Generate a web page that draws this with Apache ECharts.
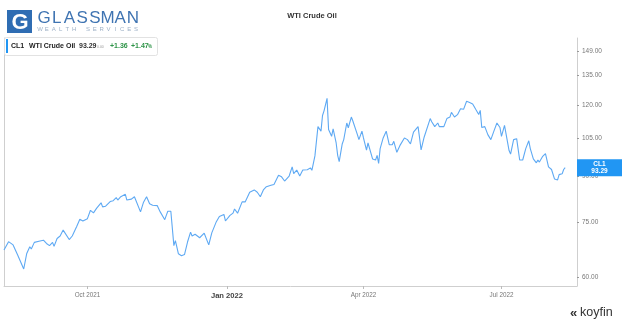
<!DOCTYPE html>
<html>
<head>
<meta charset="utf-8">
<script src="https://cdn.jsdelivr.net/npm/echarts@6/dist/echarts.min.js"></script>
<style>
html,body{margin:0;padding:0;background:#fff;}
#c{width:624px;height:323px;}
</style>
</head>
<body>
<div id="c"></div>
<script>
// ---- data ----
var seriesName = 'CL1';
var seriesTitle = 'WTI Crude Oil';
var chartTitle = 'WTI Crude Oil';
var dates = [
'2021-08-07','2021-08-10','2021-08-13','2021-08-16','2021-08-20','2021-08-22','2021-08-24','2021-08-25','2021-08-27','2021-08-30','2021-08-31',
'2021-09-02','2021-09-04','2021-09-06','2021-09-08','2021-09-09','2021-09-11','2021-09-13','2021-09-15','2021-09-16','2021-09-19','2021-09-21','2021-09-24','2021-09-26','2021-09-28',
'2021-10-01','2021-10-03','2021-10-05','2021-10-07','2021-10-10','2021-10-11','2021-10-13','2021-10-16','2021-10-18','2021-10-20','2021-10-21','2021-10-23','2021-10-24','2021-10-26','2021-10-27','2021-10-30',
'2021-11-01','2021-11-05','2021-11-07','2021-11-09','2021-11-11','2021-11-13','2021-11-16','2021-11-18','2021-11-19','2021-11-21','2021-11-22','2021-11-23','2021-11-25','2021-11-26','2021-11-27','2021-11-28','2021-11-30',
'2021-12-02','2021-12-03','2021-12-04','2021-12-06','2021-12-08','2021-12-09','2021-12-11','2021-12-14','2021-12-15','2021-12-17','2021-12-20','2021-12-22','2021-12-25','2021-12-27','2021-12-30','2021-12-31',
'2022-01-03','2022-01-05','2022-01-06','2022-01-08','2022-01-11','2022-01-13','2022-01-16','2022-01-17','2022-01-19','2022-01-21','2022-01-23','2022-01-25','2022-01-27','2022-01-30',
'2022-02-01','2022-02-04','2022-02-06','2022-02-08','2022-02-09','2022-02-11','2022-02-13','2022-02-14','2022-02-16','2022-02-18','2022-02-20','2022-02-23','2022-02-25','2022-02-26','2022-02-28',
'2022-03-02','2022-03-04','2022-03-05','2022-03-06','2022-03-08','2022-03-09','2022-03-11','2022-03-12','2022-03-14','2022-03-15','2022-03-16','2022-03-18','2022-03-19','2022-03-21','2022-03-22','2022-03-24','2022-03-25','2022-03-26','2022-03-28','2022-03-29','2022-03-31',
'2022-04-01','2022-04-03','2022-04-04','2022-04-05','2022-04-07','2022-04-09','2022-04-10','2022-04-11','2022-04-12','2022-04-14','2022-04-16','2022-04-17','2022-04-18','2022-04-20','2022-04-21','2022-04-23','2022-04-25','2022-04-26','2022-04-28','2022-04-30',
'2022-05-01','2022-05-02','2022-05-04','2022-05-05','2022-05-07','2022-05-08','2022-05-09','2022-05-11','2022-05-12','2022-05-15','2022-05-16','2022-05-18','2022-05-20','2022-05-21','2022-05-24','2022-05-26','2022-05-28','2022-05-29','2022-05-31',
'2022-06-02','2022-06-04','2022-06-06','2022-06-08','2022-06-10','2022-06-12','2022-06-14','2022-06-16','2022-06-17','2022-06-18','2022-06-20','2022-06-22','2022-06-24','2022-06-26','2022-06-28','2022-06-30',
'2022-07-01','2022-07-03','2022-07-06','2022-07-07','2022-07-09','2022-07-11','2022-07-13','2022-07-15','2022-07-17','2022-07-19','2022-07-20','2022-07-22','2022-07-24','2022-07-25','2022-07-26','2022-07-28','2022-07-29','2022-07-30',
'2022-08-01','2022-08-02','2022-08-03','2022-08-05','2022-08-07','2022-08-08','2022-08-10','2022-08-11','2022-08-12'
];
var prices = [
67.0,69.3,68.4,65.7,62.1,66.1,67.9,67.3,69.1,69.4,69.0,
69.7,68.8,68.2,69.1,68.0,70.2,70.9,72.6,72.3,69.9,70.9,73.7,75.8,75.3,
76.0,78.6,77.8,79.2,81.0,79.7,79.9,81.4,81.7,82.7,81.9,83.0,83.4,83.8,81.9,82.2,
83.0,78.1,81.2,83.0,80.7,80.2,80.1,78.1,77.6,75.7,77.0,78.3,78.3,78.1,68.2,69.6,66.0,
65.5,66.0,65.8,69.2,72.0,70.9,71.4,70.4,70.6,71.7,68.4,71.8,75.1,76.7,77.3,75.3,
77.0,77.7,79.0,77.7,81.3,81.3,84.5,84.7,85.3,84.5,83.0,85.3,86.4,86.9,
87.2,90.5,89.9,88.4,88.7,90.2,93.6,91.1,92.4,90.2,92.4,92.5,93.2,92.3,97.8,
110.0,108.0,115.0,117.2,123.2,108.7,105.8,109.0,103.0,98.0,95.6,102.6,104.4,111.6,109.5,114.3,112.5,112.2,106.5,104.4,108.0,
105.1,100.1,103.0,102.3,96.6,96.2,98.0,94.9,100.7,105.1,108.0,108.0,102.3,102.3,103.7,99.2,101.9,102.3,105.1,104.4,
105.1,102.6,107.6,108.0,110.0,105.1,100.2,105.4,106.2,113.6,112.2,110.0,111.6,110.0,110.0,113.6,114.3,116.5,114.3,
115.4,118.2,117.9,121.8,121.2,120.5,117.9,115.5,117.4,109.6,110.0,106.5,104.4,108.0,111.6,109.6,
105.8,110.5,99.9,98.5,104.4,104.8,96.2,96.2,100.7,103.9,100.7,96.6,95.1,96.2,95.4,97.5,97.0,98.7,
93.6,93.0,92.6,89.1,88.8,90.7,91.0,92.6,93.29
];
var lastChange = '+1.36';
var lastChangePct = '+1.47';
var yTicks = [60, 75, 90, 105, 120, 135, 149];
var xTickDates = ['2021-10-01', '2022-01-01', '2022-04-01', '2022-07-01'];
var xTickLabels = ['Oct 2021', 'Jan 2022', 'Apr 2022', 'Jul 2022'];
var xMin = '2021-08-07';
var xMax = '2022-08-19T19:00:00';
var yMin = 58;
var yMax = 157;

// ---- build ----
var FONT = 'Liberation Sans, Arial, sans-serif';
var P = function (s) { return Date.parse(s.length === 10 ? s + 'T00:00:00Z' : s + 'Z'); };
var seriesData = dates.map(function (d, i) { return [P(d), prices[i]]; });
var xTickTimes = xTickDates.map(P);
var lastVal = prices[prices.length - 1];

var chart = echarts.init(document.getElementById('c'), null, {renderer: 'canvas'});

function spaced(str, x0, x1, y, size, color, weight) {
  var els = [];
  var n = str.length;
  var pitch = (x1 - x0) / (n - 1);
  for (var i = 0; i < n; i++) {
    if (str[i] === ' ') continue;
    els.push({type: 'text', x: x0 + i * pitch, y: y, style: {text: str[i], fill: color, font: (weight || 'normal') + ' ' + size + 'px ' + FONT, textAlign: 'center', textVerticalAlign: 'middle'}});
  }
  return els;
}

var graphics = [
  {type: 'rect', shape: {x: 7, y: 10, width: 25, height: 23}, style: {fill: '#2f6db3'}},
  {type: 'text', x: 20, y: 22.5, style: {text: 'G', fill: '#fff', font: 'bold 22px ' + FONT, textAlign: 'center', textVerticalAlign: 'middle'}}
].concat(
  spaced('GLASSMAN', 44, 133, 18, 17, '#3f74b2'),
  spaced('WEALTH SERVICES', 40, 136, 29, 6, '#9db0c6')
).concat([
  {type: 'rect', shape: {x: 4.5, y: 37.5, width: 153, height: 18, r: 2}, style: {fill: '#fff', stroke: '#e2e2e2', lineWidth: 1}, z: 10},
  {type: 'rect', shape: {x: 6, y: 39, width: 2, height: 14}, style: {fill: '#2196f3'}, z: 11},
  {type: 'text', x: 11, y: 46.5, z: 11, style: {text: seriesName, fill: '#222', font: 'bold 7px ' + FONT, textVerticalAlign: 'middle'}},
  {type: 'text', x: 29, y: 46.5, z: 11, style: {text: seriesTitle, fill: '#222', font: 'bold 7px ' + FONT, textVerticalAlign: 'middle'}},
  {type: 'text', x: 79, y: 46.5, z: 11, style: {text: lastVal.toFixed(2), fill: '#333', font: 'bold 7px ' + FONT, textVerticalAlign: 'middle'}},
  {type: 'text', x: 97, y: 47, z: 11, style: {text: '0.00', fill: '#999', font: '3.5px ' + FONT, textVerticalAlign: 'middle'}},
  {type: 'text', x: 110, y: 46.5, z: 11, style: {text: lastChange, fill: '#2e9448', font: 'bold 7px ' + FONT, textVerticalAlign: 'middle'}},
  {type: 'text', x: 131, y: 46.5, z: 11, style: {text: lastChangePct, fill: '#2e9448', font: 'bold 7px ' + FONT, textVerticalAlign: 'middle'}},
  {type: 'text', x: 148, y: 47, z: 11, style: {text: '%', fill: '#2e9448', font: 'bold 4.5px ' + FONT, textVerticalAlign: 'middle'}},
  {type: 'text', x: 570, y: 313, style: {text: '«', fill: '#333', font: 'bold 13px ' + FONT, textVerticalAlign: 'middle'}},
  {type: 'text', x: 580, y: 312.5, style: {text: 'koyfin', fill: '#333', font: '12.5px ' + FONT, textVerticalAlign: 'middle'}}
]);

var option = {
  animation: false,
  backgroundColor: '#fff',
  textStyle: {fontFamily: FONT},
  title: {
    text: chartTitle, left: 'center', top: 7,
    textStyle: {fontSize: 7.5, fontWeight: 'bold', color: '#333', fontFamily: FONT}
  },
  grid: {left: 4, right: 47, top: 38, bottom: 37, containLabel: false},
  xAxis: {
    type: 'value', min: P(xMin), max: P(xMax),
    splitLine: {show: false},
    axisLine: {show: true, lineStyle: {color: '#cfcfcf', width: 1}},
    axisTick: {show: true, customValues: xTickTimes, length: 3, lineStyle: {color: '#bbb'}},
    axisLabel: {
      customValues: xTickTimes, margin: 6, color: '#777', fontSize: 6.3, fontFamily: FONT,
      formatter: function (v) {
        var i = xTickTimes.indexOf(+v);
        if (i < 0) return '';
        return xTickLabels[i].indexOf('Jan') === 0 ? '{b|' + xTickLabels[i] + '}' : xTickLabels[i];
      },
      rich: {b: {fontSize: 7.6, fontWeight: 'bold', color: '#444', fontFamily: FONT}}
    }
  },
  yAxis: [{
    type: 'log', logBase: 10, position: 'right', min: yMin, max: yMax,
    splitLine: {show: false},
    axisLine: {show: true, lineStyle: {color: '#cfcfcf', width: 1}},
    axisTick: {show: true, customValues: yTicks, length: 2, lineStyle: {color: '#999'}},
    axisLabel: {
      customValues: yTicks, margin: 5, color: '#777', fontSize: 6.5, fontFamily: FONT,
      formatter: function (v) { return Number(v).toFixed(2); }
    }
  }, {
    type: 'value', position: 'left', min: 0, max: 1,
    axisLine: {show: true, lineStyle: {color: '#cfcfcf', width: 1}},
    axisTick: {show: false}, axisLabel: {show: false}, splitLine: {show: false}
  }],
  series: [{
    name: seriesName,
    type: 'line',
    data: seriesData,
    showSymbol: false,
    clip: false,
    lineStyle: {color: '#5ea9f3', width: 1.1},
    itemStyle: {color: '#5ea9f3'},
    markPoint: {
      silent: true,
      symbol: 'rect',
      symbolSize: [45, 17],
      symbolOffset: [22.5, 0],
      data: [{coord: [P(xMax), lastVal]}],
      itemStyle: {color: '#2196f3'},
      label: {
        show: true, position: 'inside',
        formatter: seriesName + '\n' + lastVal.toFixed(2),
        color: '#fff', fontSize: 6.5, fontWeight: 'bold', lineHeight: 7.5, fontFamily: FONT
      }
    }
  }],
  graphic: graphics
};
chart.setOption(option);
</script>
</body>
</html>
